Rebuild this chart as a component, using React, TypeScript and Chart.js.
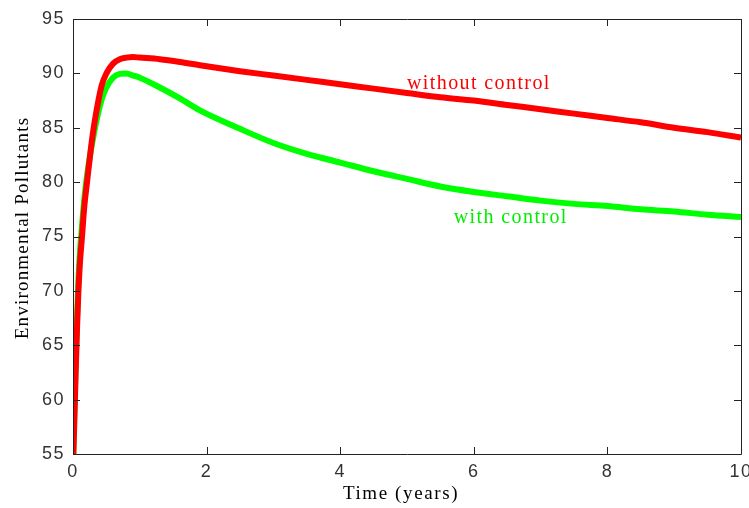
import React, { useEffect, useRef } from "react";
import { Chart, registerables } from "chart.js";

Chart.register(...registerables);

const times = [0, 0.02, 0.04, 0.06, 0.08, 0.1, 0.135, 0.17, 0.21, 0.27, 0.3, 0.35, 0.43, 0.5, 0.6, 0.7, 0.8, 0.9, 1.0, 1.3, 1.6, 1.9, 2.5, 3, 3.5, 4, 4.5, 5, 5.5, 6, 6.5, 7, 7.5, 8, 8.5, 9, 9.5, 10];
const withoutControl = [54, 58, 62.5, 66.5, 69.8, 72.2, 75, 77.8, 80, 83.2, 84.6, 86.5, 88.9, 90.0, 90.9, 91.3, 91.45, 91.5, 91.45, 91.3, 91.05, 90.75, 90.2, 89.8, 89.4, 89.0, 88.6, 88.2, 87.8, 87.5, 87.1, 86.7, 86.3, 85.9, 85.5, 85.0, 84.6, 84.1];
const withControl = [54, 59, 63.5, 67.5, 70.8, 73.2, 76, 78.5, 80.6, 83.0, 84.0, 85.6, 87.6, 88.7, 89.6, 89.95, 90.0, 89.8, 89.6, 88.7, 87.7, 86.6, 84.9, 83.6, 82.6, 81.8, 81.0, 80.3, 79.6, 79.1, 78.7, 78.3, 78.0, 77.8, 77.5, 77.3, 77.0, 76.8];
const xTicks = [0, 2, 4, 6, 8, 10];
const yTicks = [55, 60, 65, 70, 75, 80, 85, 90, 95];
const seriesLabels = ["without control", "with control"];
const labelAnchors = [
  { x: 5.0, y: 88.56 },
  { x: 5.7, y: 76.24 },
];
const xTitle = "Time (years)";
const yTitle = "Environmental Pollutants";

const boxPlugin = {
  id: "boxTicks",
  beforeDraw(chart: any) {
    (chart.ctx as any).letterSpacing = "1.5px";
  },
  afterDraw(chart: any) {
    const { ctx, chartArea: a, scales } = chart;
    const xs = scales.x;
    const ys = scales.y;
    ctx.save();
    ctx.strokeStyle = "#222";
    ctx.lineWidth = 1;
    ctx.beginPath();
    ctx.rect(a.left + 0.5, a.top + 0.5, a.right - a.left, a.bottom - a.top);
    ctx.stroke();
    ctx.beginPath();
    xTicks.forEach((v) => {
      const px = Math.round(xs.getPixelForValue(v)) + 0.5;
      ctx.moveTo(px, a.bottom);
      ctx.lineTo(px, a.bottom - 7);
      ctx.moveTo(px, a.top);
      ctx.lineTo(px, a.top + 7);
    });
    yTicks.forEach((v) => {
      const py = Math.round(ys.getPixelForValue(v)) + 0.5;
      ctx.moveTo(a.left, py);
      ctx.lineTo(a.left + 7, py);
      ctx.moveTo(a.right, py);
      ctx.lineTo(a.right - 7, py);
    });
    ctx.stroke();
    ctx.font = "20px 'Liberation Serif'";
    (ctx as any).letterSpacing = "1.4px";
    ctx.textBaseline = "alphabetic";
    ctx.textAlign = "left";
    const colors = ["#ff0000", "#00ee00"];
    seriesLabels.forEach((t, i) => {
      ctx.fillStyle = colors[i];
      ctx.fillText(t, xs.getPixelForValue(labelAnchors[i].x), ys.getPixelForValue(labelAnchors[i].y));
    });
    ctx.fillStyle = "#000";
    ctx.font = "19px 'Liberation Serif'";
    (ctx as any).letterSpacing = "1.6px";
    ctx.textAlign = "center";
    ctx.fillText(xTitle, 401, 499);
    ctx.font = "19px 'Liberation Serif'";
    (ctx as any).letterSpacing = "1.2px";
    ctx.translate(28, 228);
    ctx.rotate(-Math.PI / 2);
    ctx.fillText(yTitle, 0, 0);
    ctx.restore();
  },
};

export default function App() {
  const ref = useRef<HTMLCanvasElement>(null);
  useEffect(() => {
    document.body.style.margin = "0";
    const chart = new Chart(ref.current!, {
      type: "line",
      data: {
        datasets: [
          {
            label: seriesLabels[0],
            data: times.map((t, i) => ({ x: t, y: withoutControl[i] })),
            borderColor: "#ff0000",
            borderWidth: 6,
            pointRadius: 0,
            cubicInterpolationMode: "monotone",
          },
          {
            label: seriesLabels[1],
            data: times.map((t, i) => ({ x: t, y: withControl[i] })),
            borderColor: "#00ff00",
            borderWidth: 6,
            pointRadius: 0,
            cubicInterpolationMode: "monotone",
          },
        ],
      },
      options: {
        animation: false,
        responsive: false,
        maintainAspectRatio: false,
        layout: { padding: { top: 19, right: 8, left: 0, bottom: 0 } },
        plugins: { legend: { display: false }, tooltip: { enabled: false } },
        scales: {
          x: {
            type: "linear",
            min: 0,
            max: 10,
            grid: { display: false, drawTicks: false },
            border: { display: false },
            afterBuildTicks: (s: any) => {
              s.ticks = xTicks.map((v) => ({ value: v }));
            },
            afterFit: (s: any) => {
              s.height = 54;
              s.paddingLeft = 0;
              s.paddingRight = 0;
            },
            ticks: {
              color: "#333",
              padding: 7,
              font: { family: "'Liberation Sans'", size: 18 },
              maxRotation: 0,
            },
          },
          y: {
            type: "linear",
            min: 55,
            max: 95,
            grid: { display: false, drawTicks: false },
            border: { display: false },
            afterBuildTicks: (s: any) => {
              s.ticks = yTicks.map((v) => ({ value: v }));
            },
            afterFit: (s: any) => {
              s.width = 73;
              s.paddingTop = 0;
              s.paddingBottom = 0;
            },
            ticks: {
              color: "#333",
              padding: 8,
              font: { family: "'Liberation Sans'", size: 18 },
            },
          },
        },
      },
      plugins: [boxPlugin],
    });
    return () => chart.destroy();
  }, []);
  return (
    <div style={{ position: "relative", width: 749, height: 508, background: "#fff" }}>
      <canvas ref={ref} width={749} height={508} style={{ display: "block", width: 749, height: 508 }} />
    </div>
  );
}
